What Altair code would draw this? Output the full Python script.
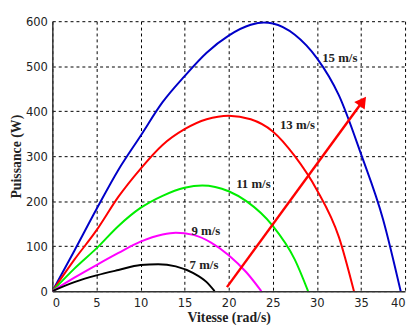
import altair as alt
import pandas as pd

# Curves: speed (rad/s) -> power (W)
v15_x = [0, 2.5, 5, 7.5, 10, 12.5, 15, 17.5, 20, 22.5, 24, 25, 27.5, 30, 32.5, 35, 37.5, 39.5]
v15_y = [0, 90, 182, 270, 345, 420, 478, 530, 568, 592, 597, 595, 570, 518, 435, 305, 160, 0]
v13_x = [0, 2.5, 5, 7.5, 10, 12.5, 15, 17.5, 20, 22.5, 25, 27.5, 30, 32.5, 34.2]
v13_y = [0, 70, 135, 210, 272, 325, 360, 382, 390, 382, 355, 300, 225, 120, 0]
v11_x = [0, 2.5, 5, 7.5, 10, 12.5, 15, 17, 20, 22, 25, 27.5, 29]
v11_y = [0, 50, 95, 145, 185, 212, 230, 235, 222, 200, 145, 70, 0]
v9_x = [0, 2.5, 5, 7.5, 10, 12.5, 14, 16, 18, 20, 22, 23.7]
v9_y = [0, 30, 58, 85, 110, 126, 130, 125, 108, 80, 42, 0]
v7_x = [0, 2.5, 5, 7.5, 10, 12, 14, 16, 17.5, 18.4]
v7_y = [0, 20, 35, 47, 58, 60, 55, 40, 20, 0]

series_names = ["15 m/s", "13 m/s", "11 m/s", "9 m/s", "7 m/s"]
series_colors = ["#0000c8", "#ff0000", "#00ee00", "#ff00ff", "#000000"]
label_x = [32.6, 27.8, 22.8, 17.4, 17.2]
label_y = [518, 370, 238, 133, 59]

arrow_x = [19.8, 35.2]
arrow_y = [9, 422]

xs = [v15_x, v13_x, v11_x, v9_x, v7_x]
ys = [v15_y, v13_y, v11_y, v9_y, v7_y]
rows = []
for name, sx, sy in zip(series_names, xs, ys):
    for i, (a, b) in enumerate(zip(sx, sy)):
        rows.append({"s": name, "x": a, "y": b, "o": i})
df = pd.DataFrame(rows)
lab = pd.DataFrame({"s": series_names, "x": label_x, "y": label_y})
arr = pd.DataFrame({"x": arrow_x, "y": arrow_y, "o": [0, 1]})

xsc = alt.Scale(domain=[0, 40], nice=False)
ysc = alt.Scale(domain=[0, 600], nice=False)
color = alt.Color("s:N", scale=alt.Scale(domain=series_names, range=series_colors), legend=None)

xaxis = alt.Axis(title="Vitesse (rad/s)", values=list(range(0, 41, 5)), grid=True)
yaxis = alt.Axis(title="Puissance (W)", values=list(range(0, 601, 100)), grid=True)

lines = alt.Chart(df).mark_line(strokeWidth=2, clip=True, interpolate="monotone").encode(
    x=alt.X("x:Q", scale=xsc, axis=xaxis),
    y=alt.Y("y:Q", scale=ysc, axis=yaxis),
    color=color,
    order="o:Q",
    detail="s:N",
)

labels = alt.Chart(lab).mark_text(font="Liberation Serif", fontSize=13, fontWeight="bold",
                                  color="#222222").encode(
    x="x:Q", y="y:Q", text="s:N"
)

arrow_line = alt.Chart(arr).mark_line(color="#ff0000", strokeWidth=2.5).encode(
    x="x:Q", y="y:Q", order="o:Q"
)
arrow_head = alt.Chart(arr.iloc[[1]]).mark_point(
    shape="triangle-up", filled=True, color="#ff0000", size=170, angle=36, opacity=1
).encode(x="x:Q", y="y:Q")

chart = alt.layer(lines, labels, arrow_line, arrow_head).properties(
    width=358, height=274,
    autosize=alt.AutoSizeParams(type="none"),
    padding={"left": 45, "top": 11, "right": 4, "bottom": 35},
).configure_view(stroke=None).configure_axis(
    gridColor="#000000", gridDash=[3, 3], gridWidth=1, gridOpacity=1,
    domainColor="#333333", domainWidth=1.5,
    ticks=False,
    labelFont="Liberation Sans Narrow, DejaVu Sans Condensed", labelFontSize=13, labelColor="#222222",
    titleFont="Liberation Serif", titleFontSize=14, titleFontWeight="bold", titleColor="#222222",
).configure_axisX(labelPadding=6, titlePadding=1).configure_axisY(labelPadding=5, titlePadding=2)

chart.save("out.html", embed_options={"renderer": "svg", "actions": False})
